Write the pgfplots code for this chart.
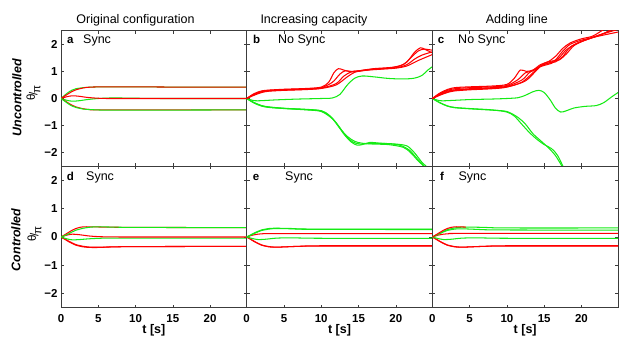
\documentclass[border=0pt]{standalone}
\usepackage{fontspec}
\setmainfont{Liberation Sans}
\usepackage{pgfplots}
\pgfplotsset{compat=1.18}
\definecolor{mygreen}{RGB}{20,235,20}
\definecolor{myred}{RGB}{255,0,0}
\definecolor{axcol}{RGB}{60,60,60}
\newcommand{\fs}{\fontsize{12.5}{14}\selectfont}
\newcommand{\thpi}{{\fontsize{11.5}{12}\selectfont\raisebox{0.4ex}{θ}\kern-0.08em/\kern-0.12em\raisebox{-0.5ex}{π}}}
\pgfplotsset{
  myax/.style={
    scale only axis, width=185.67pt,
    xmin=0, xmax=24.9, ymin=-2.5, ymax=2.5,
    xtick={0,5,10,15,20}, ytick={-2,-1,0,1,2},
    xticklabels={0,5,10,15,20}, yticklabels={−2,−1,0,1,2},
    tick align=inside, xtick pos=both, ytick pos=both,
    major tick length=3pt,
    axis line style={axcol, line width=0.7pt},
    tick style={axcol, line width=0.5pt},
    tick label style={font=\fontsize{11.5}{12}\selectfont\bfseries},
    xticklabel style={anchor=north, yshift=-3.3pt},
    no markers,
    every axis plot/.append style={line width=1.05pt, smooth},
  },
  toprow/.style={height=135.6pt, xticklabels={}},
  botrow/.style={height=141.4pt, xlabel={t [s]},
    xlabel style={at={(axis description cs:0.5,0)}, anchor=base, yshift=-26.3pt, inner sep=0pt, font=\fs\bfseries}},
  noy/.style={yticklabels={}},
  r/.style={myred},
  g/.style={mygreen},
}
\newcommand{\plab}[4]{%
  \node[anchor=base west, font=\fontsize{11.5}{13}\selectfont\bfseries, inner sep=0pt] at (rel axis cs:0,1) [xshift=#1, yshift=#4] {#2};}
\newcommand{\ptxt}[3]{%
  \node[anchor=base west, font=\fs, inner sep=0pt] at (rel axis cs:0,1) [xshift=#1, yshift=#3] {#2};}
\begin{document}
\begin{tikzpicture}[x=1pt,y=1pt]
\useasboundingbox (0,0) rectangle (623,355);

% ---------- panel a ----------
\begin{axis}[myax, toprow, at={(61pt,188.7pt)}, anchor=south west]
\addplot[g] coordinates {(0,0) (0.5,0.12) (1,0.23) (1.5,0.31) (2,0.36) (3,0.40) (4,0.42) (6,0.43) (10,0.43) (16,0.42) (24.9,0.42)};
\addplot[r] coordinates {(0,0) (0.5,0.09) (1,0.18) (1.5,0.26) (2,0.32) (3,0.39) (4,0.42) (6,0.43) (10,0.43) (16,0.42) (24.9,0.42)};
\addplot[g] coordinates {(0,0) (0.7,-0.06) (1.5,-0.1) (2.5,-0.08) (3.5,-0.04) (5,0) (7,0.02) (10,0.01) (14,0) (24.9,0)};
\addplot[r] coordinates {(0,0) (0.7,0.06) (1.5,0.1) (2.5,0.08) (3.5,0.04) (5,0.01) (7,0) (24.9,0)};
\addplot[r] coordinates {(0,0) (0.5,-0.08) (1,-0.17) (1.5,-0.25) (2,-0.31) (3,-0.38) (4,-0.41) (6,-0.42) (24.9,-0.42)};
\addplot[g] coordinates {(0,0) (0.5,-0.1) (1,-0.2) (1.5,-0.28) (2,-0.33) (3,-0.39) (4,-0.41) (6,-0.43) (10,-0.43) (24.9,-0.42)};
\plab{6pt}{a}{}{-13.3pt}
\ptxt{22pt}{Sync}{-13.3pt}
\end{axis}

% ---------- panel b ----------
\begin{axis}[myax, toprow, noy, at={(246.67pt,188.7pt)}, anchor=south west]
\addplot[g] coordinates {(0,0) (1,-0.08) (2,-0.08) (4,-0.05) (7,-0.02) (10,0) (11.5,0.02) (12.5,0.15) (13.5,0.5) (14.5,0.75) (15.5,0.83) (17,0.8) (19,0.74) (21,0.72) (22.5,0.75) (23.5,0.85) (24.3,1.05) (24.9,1.17)};
\addplot[g] coordinates {(0,0) (1,-0.15) (2,-0.26) (3,-0.31) (5,-0.36) (8,-0.4) (10,-0.45) (11,-0.6) (12,-0.9) (13,-1.3) (14,-1.6) (14.8,-1.72) (15.5,-1.7) (16.5,-1.62) (18,-1.65) (20,-1.68) (21.5,-1.75) (22.5,-2.0) (23.5,-2.35) (24.3,-2.55)};
\addplot[g] coordinates {(0,0) (1,-0.17) (2,-0.28) (3,-0.33) (5,-0.37) (8,-0.42) (10,-0.48) (11.5,-0.75) (12.5,-1.1) (13.5,-1.4) (14.5,-1.58) (15.5,-1.65) (17,-1.68) (19,-1.7) (21,-1.8) (22,-2.0) (23,-2.3) (24,-2.55)};
\addplot[g] coordinates {(0,0) (1,-0.16) (2,-0.27) (3,-0.32) (5,-0.365) (8,-0.41) (10,-0.46) (11.3,-0.68) (12.3,-1.0) (13.3,-1.38) (14.2,-1.6) (15.2,-1.68) (16.5,-1.66) (18.5,-1.66) (20.5,-1.72) (21.8,-1.9) (22.8,-2.2) (23.8,-2.5)};
\addplot[r] coordinates {(0,0) (1,0.18) (2,0.28) (3,0.31) (5,0.34) (8,0.37) (10,0.42) (11,0.6) (11.7,0.95) (12.3,1.1) (13,1.05) (14,0.98) (15,1.0) (17,1.08) (19,1.12) (20.5,1.2) (21.5,1.35) (22.5,1.7) (23.3,1.87) (24,1.8) (24.9,1.68)};
\addplot[r] coordinates {(0,0) (1,0.16) (2,0.26) (3,0.3) (5,0.33) (8,0.36) (10,0.4) (11.5,0.6) (12.5,0.9) (13.2,1.02) (14,1.0) (15,1.02) (17,1.1) (19.5,1.15) (21,1.25) (22,1.5) (23,1.75) (23.8,1.82) (24.9,1.78)};
\addplot[r] coordinates {(0,0) (1,0.14) (2,0.24) (3,0.28) (5,0.31) (8,0.34) (10,0.38) (12,0.55) (13,0.82) (14,0.98) (15,1.02) (17,1.08) (20,1.13) (21.5,1.25) (22.5,1.45) (23.5,1.6) (24.9,1.72)};
\addplot[r] coordinates {(0,0) (1,0.12) (2,0.22) (3,0.27) (5,0.3) (8,0.33) (10,0.37) (12,0.5) (13.5,0.8) (14.5,0.97) (15.5,1.03) (18,1.08) (20,1.12) (21.5,1.2) (23,1.4) (24.9,1.62)};
\plab{6.3pt}{b}{}{-13.3pt}
\ptxt{31.3pt}{No Sync}{-13.3pt}
\end{axis}

% ---------- panel c ----------
\begin{axis}[myax, toprow, noy, at={(432.33pt,188.7pt)}, anchor=south west]
\addplot[g] coordinates {(0,0) (1,-0.08) (2,-0.08) (5,-0.04) (8,-0.02) (10,0) (11.5,0.03) (12.5,0.12) (13.5,0.25) (14.3,0.3) (15,0.22) (15.8,-0.05) (16.5,-0.35) (17.2,-0.5) (18,-0.45) (19,-0.35) (20.5,-0.29) (22,-0.26) (23,-0.15) (24,0.05) (24.9,0.22)};
\addplot[g] coordinates {(0,0) (1,-0.15) (2,-0.27) (3,-0.33) (5,-0.37) (8,-0.42) (10,-0.5) (11,-0.65) (12,-0.95) (13,-1.25) (14,-1.5) (15,-1.7) (16,-1.85) (16.8,-2.1) (17.6,-2.55)};
\addplot[g] coordinates {(0,0) (1,-0.16) (2,-0.28) (3,-0.34) (5,-0.38) (8,-0.43) (10,-0.48) (11.5,-0.7) (12.5,-0.95) (13.5,-1.3) (14.5,-1.55) (15.5,-1.8) (16.5,-2.1) (17.5,-2.55)};
\addplot[r] coordinates {(0,0) (1,0.2) (2,0.33) (3,0.4) (5,0.43) (8,0.46) (10,0.52) (11,0.75) (11.8,1.05) (12.6,1.0) (13.5,1.05) (14.5,1.25) (15.5,1.35) (16.5,1.55) (17.5,1.85) (18.5,2.05) (20,2.2) (21.5,2.3) (23,2.55)};
\addplot[r] coordinates {(0,0) (1,0.18) (2,0.3) (3,0.36) (5,0.4) (8,0.43) (10,0.48) (11.5,0.7) (12.5,0.95) (13.5,1.02) (14.5,1.2) (15.5,1.3) (16.5,1.42) (17.5,1.75) (18.5,2.0) (20,2.15) (21.5,2.25) (23,2.4) (24,2.55)};
\addplot[r] coordinates {(0,0) (1,0.15) (2,0.27) (3,0.32) (5,0.36) (8,0.4) (10,0.45) (12,0.68) (13,0.95) (14,1.12) (15,1.22) (16,1.3) (17,1.5) (18,1.8) (19.5,2.05) (21,2.2) (22.5,2.35) (24.9,2.55)};
\addplot[r] coordinates {(0,0) (1,0.13) (2,0.24) (3,0.3) (5,0.34) (8,0.38) (10,0.43) (12,0.6) (13.5,0.95) (14.5,1.2) (15.5,1.3) (16.5,1.35) (17.5,1.55) (18.5,1.9) (20,2.1) (22,2.3) (24,2.5)};
\addplot[r] coordinates {(0,0) (1,0.12) (2,0.22) (3,0.28) (5,0.32) (8,0.36) (10,0.42) (12.5,0.65) (14,1.05) (15,1.3) (16,1.38) (17,1.42) (18,1.65) (19,1.95) (20.5,2.15) (22,2.28) (24.9,2.45)};
\plab{5.4pt}{c}{}{-13.3pt}
\ptxt{25.7pt}{No Sync}{-13.3pt}
\end{axis}

% ---------- panel d ----------
\begin{axis}[myax, botrow, at={(61pt,47.3pt)}, anchor=south west]
\addplot[r] coordinates {(0,0) (0.5,-0.08) (1,-0.16) (1.5,-0.23) (2,-0.29) (3,-0.35) (4,-0.37) (5,-0.37) (7,-0.35) (10,-0.34) (24.9,-0.33)};
\addplot[r] coordinates {(0,0) (0.5,-0.07) (1,-0.14) (1.5,-0.21) (2,-0.27) (3,-0.33) (4,-0.36) (5,-0.36) (7,-0.35) (10,-0.34) (24.9,-0.33)};
\addplot[g] coordinates {(0,0) (0.7,-0.06) (1.5,-0.1) (2.5,-0.09) (4,-0.06) (6,-0.04) (10,-0.04) (24.9,-0.04)};
\addplot[r] coordinates {(0,0) (0.7,0.06) (1.5,0.1) (2.5,0.08) (4,0.03) (6,0.005) (10,0) (24.9,0)};
\addplot[r] coordinates {(0,0) (0.5,0.08) (1,0.16) (1.5,0.24) (2,0.3) (2.5,0.34) (3,0.36) (4,0.36) (6,0.35) (10,0.34) (24.9,0.33)};
\addplot[g] coordinates {(0,0) (0.5,0.05) (1,0.11) (1.5,0.18) (2,0.24) (3,0.31) (4,0.35) (5,0.36) (7,0.35) (10,0.34) (24.9,0.33)};
\plab{5.7pt}{d}{}{-14.2pt}
\ptxt{25pt}{Sync}{-14.2pt}
\end{axis}

% ---------- panel e ----------
\begin{axis}[myax, botrow, noy, at={(246.67pt,47.3pt)}, anchor=south west]
\addplot[r] coordinates {(0,0) (0.5,-0.08) (1,-0.16) (1.5,-0.23) (2,-0.29) (3,-0.35) (4,-0.36) (5,-0.35) (7,-0.33) (10,-0.31) (24.9,-0.31)};
\addplot[r] coordinates {(0,0) (0.5,-0.07) (1,-0.15) (1.5,-0.22) (2,-0.28) (3,-0.34) (4,-0.36) (5,-0.35) (7,-0.33) (10,-0.32) (24.9,-0.32)};
\addplot[g] coordinates {(0,0) (0.7,-0.05) (1.5,-0.09) (2.5,-0.08) (4,-0.04) (6,-0.03) (10,-0.045) (24.9,-0.05)};
\addplot[r] coordinates {(0,0) (0.7,0.06) (1.5,0.1) (2.5,0.12) (4,0.12) (24.9,0.12)};
\addplot[g] coordinates {(0,0) (0.5,0.07) (1,0.14) (1.5,0.2) (2,0.25) (3,0.3) (4,0.31) (6,0.3) (9,0.28) (24.9,0.28)};
\addplot[g] coordinates {(0,0) (0.5,0.06) (1,0.12) (1.5,0.18) (2,0.23) (3,0.28) (4,0.3) (6,0.29) (9,0.27) (24.9,0.265)};
\plab{6pt}{e}{}{-14.2pt}
\ptxt{38.3pt}{Sync}{-14.2pt}
\end{axis}

% ---------- panel f ----------
\begin{axis}[myax, botrow, noy, at={(432.33pt,47.3pt)}, anchor=south west]
\addplot[r] coordinates {(0,0) (0.5,-0.08) (1,-0.16) (1.5,-0.23) (2,-0.29) (3,-0.35) (4,-0.36) (5,-0.35) (7,-0.33) (10,-0.31) (24.9,-0.31)};
\addplot[r] coordinates {(0,0) (0.5,-0.07) (1,-0.15) (1.5,-0.22) (2,-0.28) (3,-0.34) (4,-0.36) (5,-0.35) (7,-0.33) (10,-0.32) (24.9,-0.32)};
\addplot[g] coordinates {(0,0) (0.7,-0.05) (1.5,-0.09) (2.5,-0.08) (4,-0.04) (6,-0.03) (10,-0.045) (24.9,-0.05)};
\addplot[r] coordinates {(0,0) (0.7,0.06) (1.5,0.1) (2.5,0.12) (4,0.13) (24.9,0.13)};
\addplot[g] coordinates {(0,0) (0.5,0.06) (1,0.12) (1.5,0.18) (2,0.23) (3,0.28) (4,0.29) (6,0.27) (9,0.25) (24.9,0.24)};
\addplot[g] coordinates {(0,0) (0.5,0.06) (1,0.13) (1.5,0.2) (2,0.26) (3,0.32) (4,0.35) (5,0.35) (7,0.34) (10,0.32) (24.9,0.32)};
\addplot[r] coordinates {(0,0) (0.5,0.08) (1,0.16) (1.5,0.24) (2,0.3) (2.5,0.34) (3,0.36) (3.6,0.36) (4.5,0.35)};
\plab{7.7pt}{f}{}{-14.2pt}
\ptxt{26pt}{Sync}{-14.2pt}
\end{axis}

% ---------- titles and row labels ----------
\node[anchor=base, font=\fs, inner sep=0pt] at (135.5,331) {Original configuration};
\node[anchor=base, font=\fs, inner sep=0pt] at (314,331) {Increasing capacity};
\node[anchor=base, font=\fs, inner sep=0pt] at (516.8,331) {Adding line};
\node[rotate=90, font=\fs\bfseries\itshape, inner sep=0pt] at (17,257.5) {Uncontrolled};
\node[rotate=90, inner sep=0pt] at (33.5,262) {\thpi};
\node[rotate=90, font=\fs\bfseries\itshape, inner sep=0pt] at (16,115) {Controlled};
\node[rotate=90, inner sep=0pt] at (34.5,121) {\thpi};
\end{tikzpicture}
\end{document}
